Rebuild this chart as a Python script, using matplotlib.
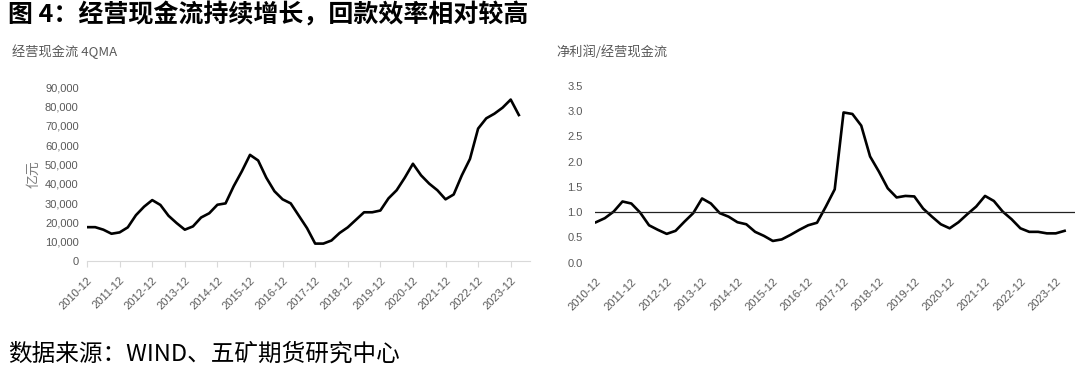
import matplotlib
matplotlib.use("Agg")
import matplotlib.pyplot as plt
import numpy as np

plt.rcParams['font.family'] = ['Liberation Sans', 'Noto Sans CJK SC', 'DejaVu Sans']

# quarterly, 2010-12 .. 2024-03
year_labels = ['2010-12', '2011-12', '2012-12', '2013-12', '2014-12', '2015-12', '2016-12',
               '2017-12', '2018-12', '2019-12', '2020-12', '2021-12', '2022-12', '2023-12']
left_yticks = [0, 10000, 20000, 30000, 40000, 50000, 60000, 70000, 80000, 90000]
right_yticks = [0.0, 0.5, 1.0, 1.5, 2.0, 2.5, 3.0, 3.5]

# 经营现金流 4QMA（亿元）
cash_flow = [17500, 17500, 16200, 14100, 14800, 17400, 23700, 28100, 31500, 29000,
             23400, 19600, 16200, 17900, 22500, 24700, 29100, 29800, 38700, 46400,
             54900, 52000, 43100, 36100, 31900, 29800, 23400, 17000, 9000, 9000,
             10600, 14500, 17400, 21300, 25200, 25200, 26100, 32400, 36600, 43100,
             50300, 44300, 40000, 36600, 31900, 34400, 44300, 52800, 68500, 73800,
             76200, 79300, 83500, 75500]

# 净利润/经营现金流
ratio = [0.80, 0.88, 1.01, 1.21, 1.17, 0.99, 0.74, 0.65, 0.57, 0.63,
         0.81, 0.98, 1.27, 1.17, 0.98, 0.91, 0.80, 0.76, 0.61, 0.53,
         0.43, 0.46, 0.55, 0.65, 0.74, 0.79, 1.11, 1.45, 2.97, 2.94,
         2.71, 2.10, 1.80, 1.47, 1.29, 1.32, 1.31, 1.07, 0.91, 0.76,
         0.68, 0.80, 0.96, 1.11, 1.32, 1.22, 1.01, 0.86, 0.68, 0.61,
         0.61, 0.58, 0.58, 0.63]

grey = '#595959'
cjk = ['Noto Sans CJK SC', 'DejaVu Sans']

fig = plt.figure(figsize=(10.8, 3.72), dpi=100)

# 左图
ax1 = fig.add_axes([0.0806, 0.2984, 0.410, 0.4677])
x1 = np.arange(len(cash_flow))
ax1.plot(x1, cash_flow, color='black', lw=1.9)
ax1.set_xlim(0, 54.35)
ax1.set_ylim(0, 90000)
ax1.set_yticks(left_yticks)
ax1.set_yticklabels([f'{v:,}' for v in left_yticks])
ax1.set_xticks(np.arange(0, len(cash_flow), 4))
ax1.set_xticklabels(year_labels, rotation=45, ha='right', rotation_mode='anchor')
for s in ['top', 'right', 'left']:
    ax1.spines[s].set_visible(False)
ax1.spines['bottom'].set_color('#d9d9d9')
ax1.tick_params(axis='x', length=4, color='#d9d9d9', labelsize=8, labelcolor=grey, pad=6)
ax1.tick_params(axis='y', length=0, labelsize=8, labelcolor=grey, pad=6)
ax1.set_ylabel('亿元', family=cjk, fontsize=10, color='#7f7f7f', labelpad=3)

# 右图
ax2 = fig.add_axes([0.551, 0.2938, 0.444, 0.476])
x2 = np.arange(len(ratio))
ax2.plot(x2, ratio, color='black', lw=1.9)
ax2.axhline(1.0, color='#222222', lw=0.9)
ax2.set_xlim(-0.1, 54.13)
ax2.set_ylim(0, 3.5)
ax2.set_yticks(right_yticks)
ax2.set_yticklabels([f'{v:.1f}' for v in right_yticks])
ax2.set_xticks(np.arange(0, len(ratio), 4))
ax2.set_xticklabels(year_labels, rotation=45, ha='right', rotation_mode='anchor')
for s in ['top', 'right', 'left', 'bottom']:
    ax2.spines[s].set_visible(False)
ax2.tick_params(axis='x', length=0, labelsize=8, labelcolor=grey, pad=10)
ax2.tick_params(axis='y', length=0, labelsize=8, labelcolor=grey, pad=9)

# 文字
fig.text(8 / 1080, 1 - 15 / 372, '图 4：经营现金流持续增长，回款效率相对较高', family=cjk,
         fontsize=18, fontweight='bold', color='black', va='center', ha='left')
fig.text(12 / 1080, 1 - 52 / 372, '经营现金流 4QMA', family=cjk, fontsize=9.5,
         color=grey, va='center', ha='left')
fig.text(556 / 1080, 1 - 52 / 372, '净利润/经营现金流', family=cjk, fontsize=9.5,
         color=grey, va='center', ha='left')
fig.text(8 / 1080, 1 - 354 / 372, '数据来源：WIND、五矿期货研究中心', family=cjk,
         fontsize=17, color='black', va='center', ha='left')

fig.savefig('out.png', dpi=100)
